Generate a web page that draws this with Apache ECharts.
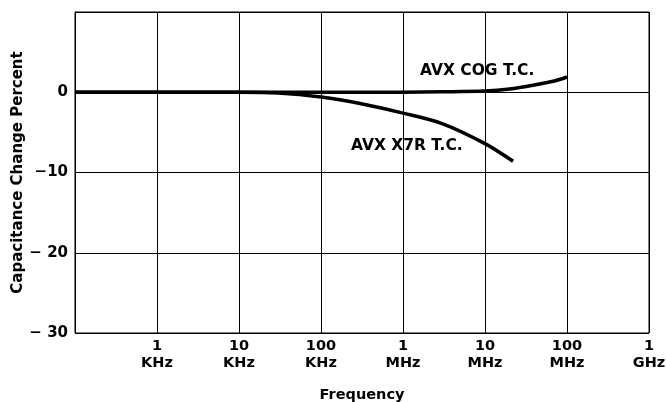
<!DOCTYPE html>
<html>
<head>
<meta charset="utf-8">
<script src="https://cdn.jsdelivr.net/npm/echarts@6/dist/echarts.min.js"></script>
<style>
html,body{margin:0;padding:0;background:#fff;}
#c{width:666px;height:402px;}
</style>
</head>
<body>
<div id="c"></div>
<script>
// Frequencies in Hz, values in percent
const cogFreq = [100, 1e3, 1e4, 1e5, 1e6, 3e6, 1e7, 2e7, 4e7, 7e7, 1e8];
const cogVal  = [0, 0, 0, 0, 0, 0.05, 0.15, 0.4, 0.9, 1.4, 1.9];
const x7rFreq = [100, 1e3, 1e4, 3e4, 1e5, 3e5, 1e6, 3e6, 1e7, 2.2e7];
const x7rVal  = [0, 0, 0, -0.1, -0.6, -1.4, -2.6, -3.9, -6.4, -8.6];
const xTickValues = [100, 1e3, 1e4, 1e5, 1e6, 1e7, 1e8, 1e9];
const xTickLabels = ['', '1\nKHz', '10\nKHz', '100\nKHz', '1\nMHz', '10\nMHz', '100\nMHz', '1\nGHz'];
const yTickValues = [-30, -20, -10, 0, 10];
const yTickLabels = ['\u2212 30', '\u2212 20', '\u221210', '0', ''];
const seriesNames = ['AVX COG T.C.', 'AVX X7R T.C.'];

const FONT = 'DejaVu Sans';
const chart = echarts.init(document.getElementById('c'), null, {renderer: 'canvas'});
function zip(a, b) { return a.map((v, i) => [v, b[i]]); }

chart.setOption({
  animation: false,
  backgroundColor: '#fff',
  grid: {left: 75, right: 17, top: 12, bottom: 69, show: true, borderColor: '#000', borderWidth: 1,
         containLabel: false, outerBoundsMode: 'none'},
  xAxis: {
    type: 'log', logBase: 10, min: 100, max: 1e9,
    name: 'Frequency', nameLocation: 'middle', nameGap: 55, nameMoveOverlap: false,
    nameTextStyle: {fontFamily: FONT, fontWeight: 'bold', fontSize: 14.5, color: '#000'},
    axisLine: {show: true, lineStyle: {color: '#000', width: 1}},
    axisTick: {show: false},
    splitLine: {show: true, lineStyle: {color: '#000', width: 1}},
    minorTick: {show: false}, minorSplitLine: {show: false},
    axisLabel: {
      show: true, showMinLabel: true, showMaxLabel: true, margin: 5,
      fontFamily: FONT, fontWeight: 'bold', fontSize: 14.5, color: '#000', lineHeight: 17,
      formatter: function (v) {
        for (let i = 0; i < xTickValues.length; i++) {
          if (Math.abs(Math.log10(v) - Math.log10(xTickValues[i])) < 1e-6) return xTickLabels[i];
        }
        return '';
      }
    }
  },
  yAxis: {
    type: 'value', min: -30, max: 10, interval: 10,
    name: 'Capacitance Change Percent', nameLocation: 'middle', nameGap: 49, nameMoveOverlap: false,
    nameTextStyle: {fontFamily: FONT, fontWeight: 'bold', fontSize: 15, color: '#000'},
    axisLine: {show: true, lineStyle: {color: '#000', width: 1}},
    axisTick: {show: false},
    splitLine: {show: true, lineStyle: {color: '#000', width: 1}},
    axisLabel: {
      margin: 7, fontFamily: FONT, fontWeight: 'bold', fontSize: 15, color: '#000',
      formatter: function (v) {
        const i = yTickValues.indexOf(v);
        return i >= 0 ? yTickLabels[i] : '';
      }
    }
  },
  series: [
    {name: seriesNames[0], type: 'line', data: zip(cogFreq, cogVal), smooth: 0.3, symbol: 'none',
     lineStyle: {color: '#000', width: 3.5}},
    {name: seriesNames[1], type: 'line', data: zip(x7rFreq, x7rVal), smooth: 0.3, symbol: 'none',
     lineStyle: {color: '#000', width: 3.5}}
  ],
  graphic: [
    {type: 'text', left: 420, top: 63, style: {text: seriesNames[0], fontFamily: FONT, fontWeight: 'bold', fontSize: 15.5, fill: '#000'}},
    {type: 'text', left: 351, top: 138, style: {text: seriesNames[1], fontFamily: FONT, fontWeight: 'bold', fontSize: 15.5, fill: '#000'}}
  ]
});
</script>
</body>
</html>
